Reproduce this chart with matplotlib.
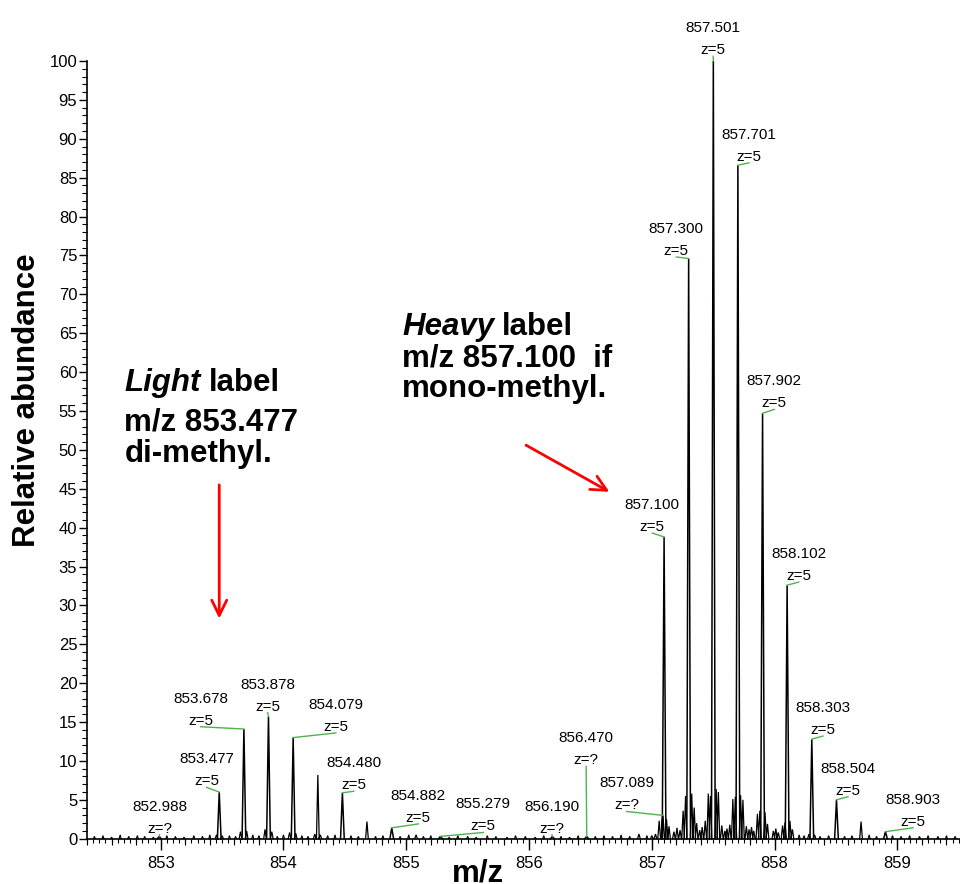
import matplotlib
matplotlib.use("Agg")
import matplotlib.pyplot as plt
from matplotlib.ticker import MultipleLocator, FixedLocator, NullFormatter
from matplotlib import font_manager as fm
import numpy as np

# ---------------------------------------------------------------- data
# Labelled centroids: m/z, relative abundance and assigned charge state
peak_mz = [852.988, 853.477, 853.678, 853.878, 854.079, 854.480, 854.882, 855.279,
           856.190, 856.470, 857.089, 857.100, 857.300, 857.501, 857.701, 857.902,
           858.102, 858.303, 858.504, 858.903]
peak_int = [0.3, 6.0, 14.1, 15.7, 13.0, 5.9, 1.4, 0.3,
            0.3, 0.3, 3.0, 38.8, 74.6, 100.0, 86.6, 54.7,
            32.6, 12.8, 5.0, 0.9]
peak_z = ["?", "5", "5", "5", "5", "5", "5", "5",
          "?", "?", "?", "5", "5", "5", "5", "5",
          "5", "5", "5", "5"]

# Unlabelled isotope / satellite peaks
minor_mz = [854.280, 854.680, 855.080, 858.704,
            853.455, 853.500, 853.650, 853.700, 853.850, 853.905, 854.050, 854.100,
            854.255, 854.300, 856.895, 857.000, 857.030,
            857.060, 857.120, 857.140, 857.180, 857.205, 857.230,
            857.255, 857.275, 857.325, 857.345, 857.365, 857.390, 857.410,
            857.435, 857.460, 857.478, 857.524, 857.542, 857.570, 857.595, 857.612,
            857.635, 857.660, 857.680, 857.723, 857.742, 857.770,
            857.792, 857.812, 857.830, 857.860, 857.880, 857.922, 857.942,
            857.990, 858.010, 858.030, 858.065, 858.085, 858.125, 858.145,
            858.280, 858.325]
minor_int = [8.2, 2.2, 0.5, 2.2,
             0.5, 0.4, 0.9, 1.0, 1.2, 0.9, 0.8, 0.7,
             0.6, 0.5, 0.6, 0.4, 0.6,
             2.3, 2.5, 1.6, 0.9, 1.4, 1.1,
             3.6, 5.5, 5.8, 4.0, 2.0, 1.1, 1.5,
             2.3, 5.8, 5.5, 6.4, 6.0, 1.7, 1.0, 1.3,
             1.8, 5.1, 5.4, 5.6, 5.0, 1.6,
             1.2, 1.5, 1.0, 3.2, 3.6, 3.4, 1.9,
             1.0, 1.3, 0.8, 1.7, 2.1, 2.3, 1.2,
             0.6, 0.5]

# Baseline noise
noise_mz = [852.46, 852.53, 852.60, 852.67, 852.74, 852.81, 852.87, 852.94,
            853.05, 853.12, 853.19, 853.27, 853.34, 853.40, 853.56, 853.61,
            853.75, 853.80, 853.95, 854.00, 854.15, 854.20, 854.36, 854.42,
            854.55, 854.61, 854.75, 854.81, 854.95, 855.02, 855.14, 855.20,
            855.35, 855.42, 855.50, 855.57, 855.66, 855.73, 855.82, 855.89,
            855.97, 856.05, 856.12, 856.26, 856.33, 856.40, 856.54, 856.61,
            856.68, 856.75, 856.82, 856.96, 858.20, 858.24, 858.37, 858.44,
            858.57, 858.63, 858.77, 858.83, 858.96, 859.03, 859.10, 859.18,
            859.25, 859.33, 859.40, 859.47]
noise_int = [0.3, 0.4, 0.2, 0.5, 0.3, 0.4, 0.3, 0.2,
             0.4, 0.3, 0.2, 0.4, 0.3, 0.5, 0.4, 0.3,
             0.5, 0.4, 0.3, 0.5, 0.4, 0.3, 0.4, 0.5,
             0.4, 0.3, 0.3, 0.4, 0.3, 0.5, 0.3, 0.4,
             0.2, 0.4, 0.3, 0.2, 0.4, 0.3, 0.2, 0.4,
             0.3, 0.2, 0.4, 0.3, 0.2, 0.4, 0.3, 0.4,
             0.3, 0.5, 0.3, 0.4, 0.5, 0.4, 0.3, 0.4,
             0.3, 0.4, 0.5, 0.3, 0.4, 0.3, 0.4, 0.3,
             0.4, 0.3, 0.4, 0.3]

# Where each peak annotation sits (leader start, data coordinates)
label_x = [852.990, 853.374, 853.325, 853.872, 854.427, 854.573, 855.098, 855.628,
           856.187, 856.465, 856.795, 857.004, 857.200, 857.500, 857.791, 857.997,
           858.197, 858.394, 858.598, 859.128]
label_y = [0.5, 6.6, 14.4, 16.2, 13.6, 6.1, 1.9, 0.8,
           0.5, 9.3, 3.5, 39.3, 74.8, 100.6, 86.9, 55.2,
           33.0, 13.2, 5.4, 1.4]

y_ticks = list(range(0, 101, 5))
x_ticks = [853, 854, 855, 856, 857, 858, 859]

# ---------------------------------------------------------------- fonts
installed = {f.name for f in fm.fontManager.ttflist}
SANS = "Liberation Sans"
NARROW = "Liberation Sans Narrow" if "Liberation Sans Narrow" in installed else SANS
TICK_SIZE = 13 if NARROW != SANS else 12
plt.rcParams["font.family"] = [SANS, "DejaVu Sans"]

GREEN = "#4db34d"
RED = "#ff0000"

# ---------------------------------------------------------------- figure
fig = plt.figure(figsize=(9.6, 8.84), dpi=100)
ax = fig.add_axes([87 / 960, 45.3 / 884, 873 / 960, 777.7 / 884])
ax.set_xlim(852.40, 859.51)
ax.set_ylim(0, 100)


def draw_peaks(mzs, ints, half_width, lw):
    xs, ys = [], []
    for m, h in zip(mzs, ints):
        xs += [m - half_width, m, m + half_width, np.nan]
        ys += [0, h, 0, np.nan]
    ax.plot(xs, ys, color="black", lw=lw, clip_on=False, solid_joinstyle="miter")


draw_peaks(noise_mz, noise_int, 0.008, 0.8)
draw_peaks(minor_mz, minor_int, 0.011, 0.9)
draw_peaks(peak_mz, peak_int, 0.015, 1.1)

# peak annotations with green leaders
for m, h, z, lx, ly in zip(peak_mz, peak_int, peak_z, label_x, label_y):
    ax.plot([lx, m], [ly, h], color=GREEN, lw=1.0, clip_on=False)
    ax.annotate(f"z={z}", xy=(lx, ly), xytext=(0, 2), textcoords="offset pixels",
                ha="center", va="baseline", fontsize=11, family=SANS,
                annotation_clip=False)
    ax.annotate(f"{m:.3f}", xy=(lx, ly), xytext=(0, 24), textcoords="offset pixels",
                ha="center", va="baseline", fontsize=11, family=SANS,
                annotation_clip=False)

# ---------------------------------------------------------------- callouts
BIG = 22.5


def callout(x, ys, lines, italic_word):
    first = ax.text(x, ys[0], italic_word, fontsize=BIG, fontweight="bold",
                    fontstyle="italic", ha="left", va="baseline")
    ax.annotate(lines[0], xy=(1, ys[0]), xycoords=(first, "data"),
                xytext=(8, 0), textcoords="offset pixels",
                fontsize=BIG, fontweight="bold", ha="left", va="baseline",
                annotation_clip=False)
    for y, line in zip(ys[1:], lines[1:]):
        ax.text(x, y, line, fontsize=BIG, fontweight="bold", ha="left", va="baseline")


callout(852.704, [57.6, 52.45, 48.5], ["label", "m/z 853.477", "di-methyl."], "Light")
callout(854.966, [64.77, 60.69, 56.83], ["label", "m/z 857.100  if", "mono-methyl."], "Heavy")

arrow_style = "->,head_length=0.55,head_width=0.27"
ax.annotate("", xy=(853.477, 28.3), xytext=(853.477, 45.5),
            arrowprops=dict(arrowstyle=arrow_style, color=RED, lw=2,
                            mutation_scale=20, shrinkA=0, shrinkB=0))
ax.annotate("", xy=(856.655, 44.6), xytext=(855.976, 50.6),
            arrowprops=dict(arrowstyle=arrow_style, color=RED, lw=2,
                            mutation_scale=20, shrinkA=0, shrinkB=0))

# ---------------------------------------------------------------- axes styling
for side in ("top", "right"):
    ax.spines[side].set_visible(False)
for side in ("left", "bottom"):
    ax.spines[side].set_linewidth(1.2)

ax.yaxis.set_major_locator(FixedLocator(y_ticks))
ax.yaxis.set_minor_locator(MultipleLocator(1))
ax.xaxis.set_major_locator(FixedLocator(x_ticks))
ax.xaxis.set_minor_locator(MultipleLocator(0.05))
ax.set_yticklabels([str(v) for v in y_ticks])
ax.set_xticklabels([str(v) for v in x_ticks])

ax.tick_params(axis="y", which="major", length=6, width=1, pad=1,
               labelsize=TICK_SIZE, labelfontfamily=NARROW)
ax.tick_params(axis="y", which="minor", length=3.5, width=0.8)
ax.tick_params(axis="x", which="major", length=8, width=1, pad=4.5,
               labelsize=TICK_SIZE, labelfontfamily=NARROW)
ax.tick_params(axis="x", which="minor", length=3, width=0.8)

# medium ticks every 0.2 on the m/z axis
ax_mid = ax.twiny()
ax_mid.set_xlim(ax.get_xlim())
ax_mid.xaxis.set_ticks_position("bottom")
ax_mid.xaxis.set_major_locator(MultipleLocator(0.2))
ax_mid.xaxis.set_major_formatter(NullFormatter())
ax_mid.tick_params(axis="x", which="major", length=4.5, width=0.8,
                   labelbottom=False, labeltop=False)
for s in ax_mid.spines.values():
    s.set_visible(False)
ax_mid.patch.set_visible(False)

fig.text(27 / 960, 1 - 400 / 884, "Relative abundance", rotation=90,
         fontsize=22.5, fontweight="bold", ha="center", va="center")
fig.text(477.5 / 960, 1 - 859 / 884, "m/z", fontsize=22.5, fontweight="bold",
         ha="center", va="top")

fig.savefig("out.png", dpi=100)
